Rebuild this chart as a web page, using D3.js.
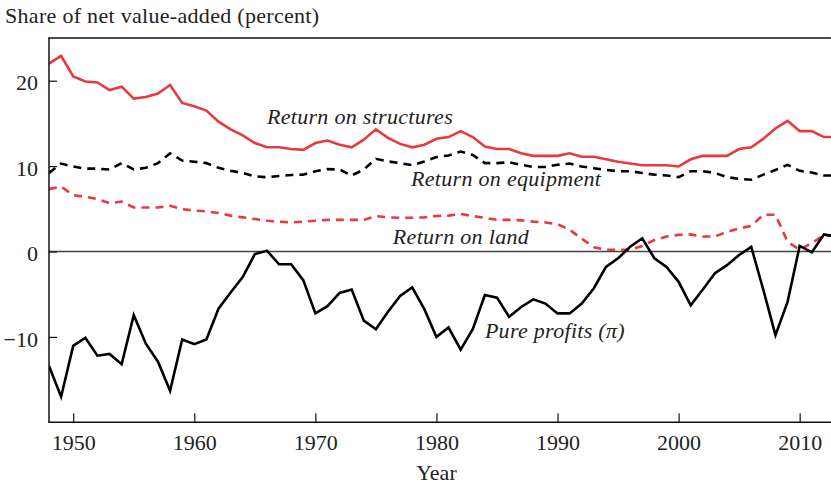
<!DOCTYPE html>
<html>
<head>
<meta charset="utf-8">
<script src="https://cdn.jsdelivr.net/npm/d3@7"></script>
<style>
  html, body { margin: 0; padding: 0; background: #fff; }
  svg { display: block; }
</style>
</head>
<body>
<svg id="chart" width="831" height="485"></svg>
<script>
// ---- Data ----
const years = d3.range(1948, 2014);

const structures = [
  22.0, 22.9, 20.5, 19.9, 19.8, 18.9, 19.3, 17.9, 18.1, 18.5,
  19.5, 17.4, 17.0, 16.5, 15.2, 14.3, 13.6, 12.7, 12.2, 12.2,
  12.0, 11.9, 12.7, 13.0, 12.5, 12.2, 13.1, 14.3, 13.3, 12.6,
  12.2, 12.5, 13.2, 13.4, 14.1, 13.4, 12.3, 12.0, 12.0, 11.5,
  11.2, 11.2, 11.2, 11.5, 11.1, 11.1, 10.8, 10.5, 10.3, 10.1,
  10.1, 10.1, 9.95, 10.8, 11.2, 11.2, 11.2, 12.0, 12.2, 13.2,
  14.4, 15.3, 14.1, 14.1, 13.4, 13.4
];

const equipment = [
  9.2, 10.3, 9.95, 9.7, 9.7, 9.6, 10.35, 9.6, 9.8, 10.35,
  11.5, 10.65, 10.5, 10.35, 9.8, 9.45, 9.2, 8.8, 8.7, 8.85,
  8.95, 9.0, 9.4, 9.65, 9.6, 8.9, 9.6, 10.85, 10.55, 10.35,
  10.1, 10.55, 11.05, 11.25, 11.7, 11.3, 10.35, 10.35, 10.45, 10.15,
  9.9, 9.9, 10.15, 10.3, 9.95, 9.75, 9.55, 9.4, 9.4, 9.2,
  9.0, 8.9, 8.7, 9.4, 9.4, 9.2, 8.7, 8.5, 8.4, 9.0,
  9.55, 10.15, 9.45, 9.25, 8.9, 8.9
];

const land = [
  7.3, 7.6, 6.6, 6.4, 6.15, 5.65, 5.85, 5.15, 5.15, 5.15,
  5.35, 4.95, 4.8, 4.7, 4.5, 4.2, 4.0, 3.8, 3.6, 3.5,
  3.4, 3.5, 3.6, 3.7, 3.7, 3.7, 3.7, 4.15, 4.0, 3.95,
  3.95, 4.0, 4.15, 4.2, 4.4, 4.15, 3.95, 3.7, 3.7, 3.65,
  3.5, 3.4, 3.2, 2.55, 1.5, 0.5, 0.2, 0.2, 0.2, 0.65,
  1.35, 1.75, 1.95, 2.0, 1.75, 1.75, 2.3, 2.7, 3.0, 4.3,
  4.3, 1.15, 0.2, 1.0, 1.9, 1.8
];

const profits = [
  -13.4, -17.0, -11.05, -10.1, -12.2, -12.0, -13.2, -7.45, -10.8, -12.9,
  -16.3, -10.3, -10.85, -10.3, -6.7, -4.8, -3.0, -0.3, 0.1, -1.5,
  -1.5, -3.35, -7.25, -6.4, -4.85, -4.45, -8.1, -9.1, -7.05, -5.2,
  -4.2, -6.75, -10.0, -8.9, -11.5, -9.1, -5.1, -5.4, -7.65, -6.5,
  -5.6, -6.1, -7.25, -7.25, -6.1, -4.3, -1.8, -0.8, 0.55, 1.55,
  -0.8, -1.8, -3.55, -6.3, -4.45, -2.55, -1.6, -0.4, 0.55, -4.5,
  -9.8, -5.9, 0.65, -0.1, 2.0, 1.75
];

const xTicks = [1950, 1960, 1970, 1980, 1990, 2000, 2010];
const yTicks = [-10, 0, 10, 20];

const seriesLabels = [
  { name: "Return on structures", year: 1966.0, value: 14.93 },
  { name: "Return on equipment", year: 1977.9, value: 7.67 },
  { name: "Return on land",      year: 1976.4, value: 0.88 },
  { name: "Pure profits (π)",    year: 1984.0, value: -10.1 }
];

// ---- Layout ----
const FONT = '"Liberation Serif", "Times New Roman", "DejaVu Serif", serif';
const svg = d3.select("#chart");
const W = 831, H = 485;
const mLeft = 49, mRight = 836, mTop = 38, mBottom = 422.3;

const x = d3.scaleLinear().domain([1948, 2013]).range([mLeft, mRight]);
const y = d3.scaleLinear().domain([-20, 25]).range([mBottom, mTop]);

svg.append("defs").append("clipPath").attr("id", "plotclip")
  .append("rect").attr("x", mLeft).attr("y", mTop - 2)
  .attr("width", W - mLeft).attr("height", mBottom - mTop + 4);

// Title
svg.append("text").attr("x", 5).attr("y", 23)
  .attr("font-family", FONT).attr("fill", "#222")
  .attr("font-size", 22).attr("letter-spacing", 0.3)
  .text("Share of net value-added (percent)");

// Zero line
svg.append("line")
  .attr("x1", mLeft).attr("x2", W)
  .attr("y1", y(0)).attr("y2", y(0))
  .attr("stroke", "#444").attr("stroke-width", 1.5);

// Lines
const plot = svg.append("g").attr("clip-path", "url(#plotclip)");
const line = d3.line().x((d, i) => x(years[i])).y(d => y(d));

const specs = [
  { data: structures, color: "#e8393e", dash: null },
  { data: equipment,  color: "#000",    dash: "8,6" },
  { data: land,       color: "#e8393e", dash: "8,6" },
  { data: profits,    color: "#000",    dash: null }
];
specs.forEach(s => {
  plot.append("path")
    .attr("d", line(s.data))
    .attr("fill", "none")
    .attr("stroke", s.color)
    .attr("stroke-width", 2.6)
    .attr("stroke-linejoin", "miter")
    .attr("stroke-dasharray", s.dash);
});

// Frame: left, bottom, top
const axisColor = "#111";
svg.append("line").attr("x1", mLeft).attr("x2", mLeft).attr("y1", mTop).attr("y2", mBottom)
  .attr("stroke", axisColor).attr("stroke-width", 1.5);
svg.append("line").attr("x1", mLeft - 0.75).attr("x2", W).attr("y1", mBottom).attr("y2", mBottom)
  .attr("stroke", axisColor).attr("stroke-width", 1.5);
svg.append("line").attr("x1", mLeft - 0.75).attr("x2", W).attr("y1", mTop).attr("y2", mTop)
  .attr("stroke", axisColor).attr("stroke-width", 1.5);

// X axis (ticks inward)
const xAxis = d3.axisBottom(x).tickValues(xTicks).tickFormat(d3.format("d"))
  .tickSizeInner(-9).tickSizeOuter(0).tickPadding(12);
const gx = svg.append("g").attr("transform", `translate(0,${mBottom})`).call(xAxis)
  .attr("font-family", FONT).attr("font-size", 22);
gx.select(".domain").remove();
gx.selectAll(".tick line").attr("stroke", axisColor).attr("stroke-width", 1.2);
gx.selectAll(".tick text").attr("fill", "#222");

// Y axis (ticks inward)
const yAxis = d3.axisLeft(y).tickValues(yTicks)
  .tickFormat(d => d < 0 ? "\u2212" + Math.abs(d) : String(d))
  .tickSizeInner(-8).tickSizeOuter(0).tickPadding(11);
const gy = svg.append("g").attr("transform", `translate(${mLeft},0)`).call(yAxis)
  .attr("font-family", FONT).attr("font-size", 22);
gy.select(".domain").remove();
gy.selectAll(".tick line").attr("stroke", axisColor).attr("stroke-width", 1.2);
gy.selectAll(".tick text").attr("fill", "#222").attr("x", -11).attr("dy", "0.42em");

// X axis title
svg.append("text").attr("x", x(1980)).attr("y", 480)
  .attr("text-anchor", "middle")
  .attr("font-family", FONT).attr("fill", "#222")
  .attr("font-size", 22).text("Year");

// Series labels
svg.selectAll(".slabel").data(seriesLabels).enter().append("text")
  .attr("class", "slabel")
  .attr("x", d => x(d.year)).attr("y", d => y(d.value))
  .attr("font-family", FONT).attr("fill", "#222")
  .attr("font-size", 22).attr("font-style", "italic").attr("letter-spacing", 0.3)
  .text(d => d.name);
</script>
</body>
</html>
